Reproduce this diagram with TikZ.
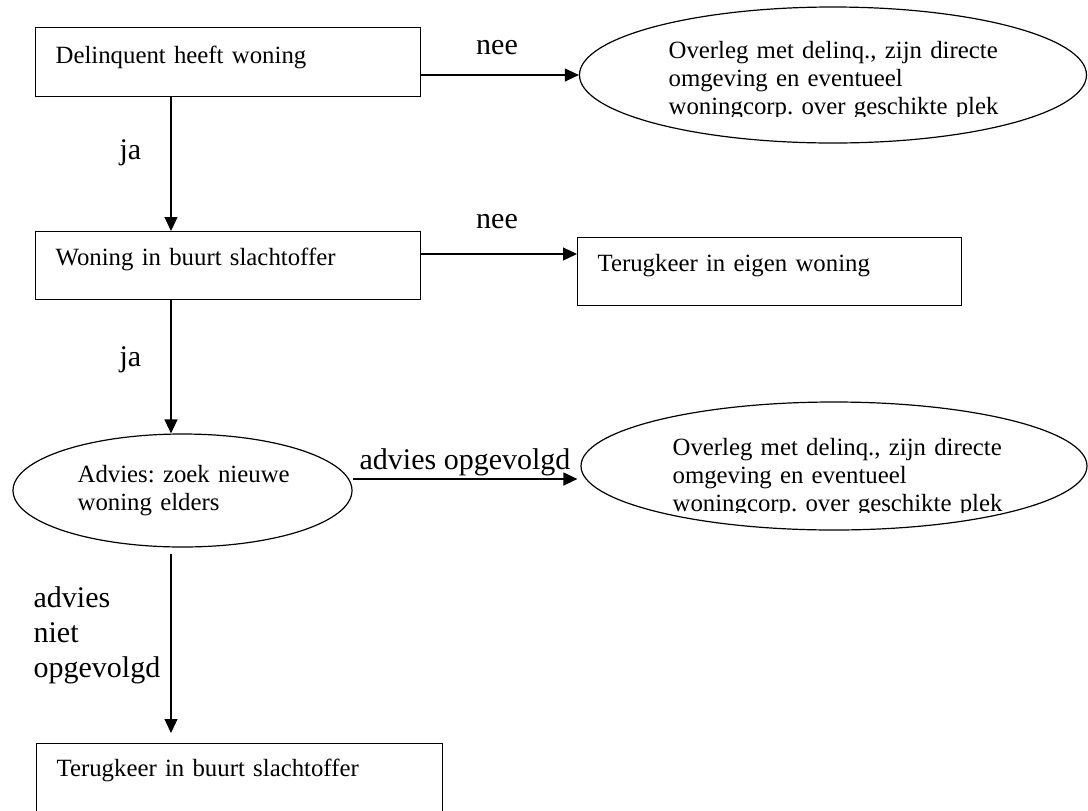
\documentclass[tikz,border=0pt]{standalone}
\usepackage{fontspec}
\setmainfont{Liberation Serif}
\usetikzlibrary{arrows.meta,shapes.geometric}
\newcommand\boxfont{\fontsize{12.4pt}{14pt}\selectfont\frenchspacing}
\newcommand\lblfont{\fontsize{15pt}{17.5pt}\selectfont\frenchspacing}
\begin{document}
\begin{tikzpicture}[x=0.5pt,y=-0.5pt,
  line width=0.6pt,
  stepbox/.style={draw, rectangle, anchor=north west, inner xsep=10pt, inner ysep=0pt,
    text height=17pt, text depth=17pt, align=left, font=\boxfont},
  ovalnode/.style={draw, ellipse, inner sep=0pt},
  ovaltext/.style={anchor=base west, inner sep=0pt, align=left, font=\boxfont},
  lbl/.style={anchor=base west, inner sep=0pt, font=\lblfont},
  conn/.style={-{Triangle[length=7pt,width=6.5pt]}},
  ]
\clip (0,0) rectangle (1088,810);

% helper coordinates for connector positions
\coordinate (colA) at (171,0);
\coordinate (rowA) at (0,254);
\coordinate (rowB) at (0,479);

% boxes
\node[stepbox, text width=172.5pt, text height=18pt, text depth=16.5pt] (b1) at (35,27) {Delinquent heeft woning};
\node[stepbox, text width=172.5pt] (b2) at (35,231) {Woning in buurt slachtoffer};
\node[stepbox, text width=172pt] (b3) at (577,237) {Terugkeer in eigen woning};
\node[stepbox, text width=183pt, text height=16.5pt, text depth=30pt] (b4) at (36,743) {Terugkeer in buurt slachtoffer};

% ellipses
\node[ovalnode, minimum width=253.5pt, minimum height=68pt] (e1) at (833,75) {};
\node[ovalnode, minimum width=169.5pt, minimum height=56.5pt] (e2) at (182.5,490.5) {};
\node[ovalnode, minimum width=253pt, minimum height=64pt] (e3) at (834,466) {};

% ellipse texts
\begin{scope}
  \clip (580,0) rectangle (1088,116.5);
  \node[ovaltext, text width=170pt] (e1t) at (668,58) {Overleg met delinq., zijn directe\\omgeving en eventueel\\woningcorp. over geschikte plek};
\end{scope}
\node[ovaltext, text width=150pt] (e2t) at (77,482) {Advies: zoek nieuwe\\woning elders};
\begin{scope}
  \clip (580,380) rectangle (1088,512);
  \node[ovaltext, text width=170pt] (e3t) at (672,455) {Overleg met delinq., zijn directe\\omgeving en eventueel\\woningcorp. over geschikte plek};
\end{scope}

% labels
\node[lbl, anchor=base] (l1) at (497,54) {nee};
\node[lbl, anchor=base] (l2) at (497,228) {nee};
\node[lbl] (l3) at (119,159) {ja};
\node[lbl] (l4) at (119,366) {ja};
\node[lbl] (l5) at (359,469) {advies opgevolgd};
\node[lbl, text width=80pt, align=left] (l6) at (33,607) {advies\\niet\\opgevolgd};

% connectors
\draw[conn] (b1.east |- e1.west) -- (e1.west);
\draw[conn] (b1.south -| colA) -- (b2.north -| colA);
\draw[conn] (b2.east |- rowA) -- (b3.west |- rowA);
\draw[conn] (b2.south -| colA) -- (e2.north -| colA);
\draw[conn, shorten >=1.5pt] (e2.east |- rowB) -- (e3.west |- rowB);
\draw[conn, shorten <=3pt, shorten >=5pt] (e2.south -| colA) -- (b4.north -| colA);
\end{tikzpicture}
\end{document}
